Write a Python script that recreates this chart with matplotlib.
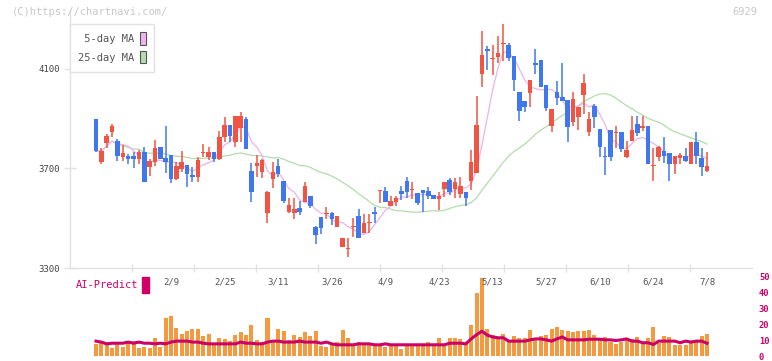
import numpy as np
import pandas as pd
import matplotlib
matplotlib.use("Agg")
import matplotlib.pyplot as plt
from matplotlib.patches import Patch, Rectangle

# daily candles
opens = [3899, 3726, 3802, 3848, 3810, 3747, 3751, 3750, 3738, 3766,
         3707, 3726, 3786, 3742, 3754, 3659, 3698, 3714, 3673, 3667,
         3763, 3747, 3767, 3739, 3828, 3874, 3807, 3864, 3899, 3690,
         3711, 3687, 3522, 3659, 3710, 3649, 3526, 3522, 3542, 3566,
         3589, 3466, 3505, 3518, 3521, 3466, 3385, 3375, 3463, 3509,
         3442, 3479, 3525, 3608, 3609, 3550, 3566, 3609, 3649, 3612,
         3601, 3613, 3609, 3593, 3578, 3619, 3654, 3619, 3597, 3605,
         3650, 3683, 4080, 4180, 4141, 4149, 4199, 4196, 4152, 4007,
         3971, 4005, 4124, 4136, 4034, 3872, 4007, 3987, 3975, 3888,
         3908, 3997, 3848, 3951, 3859, 3751, 3855, 3844, 3847, 3746,
         3812, 3879, 3864, 3871, 3711, 3747, 3770, 3762, 3719, 3743,
         3750, 3719, 3806, 3742, 3691]
highs = [3899, 3781, 3837, 3877, 3817, 3794, 3757, 3767, 3774, 3786,
         3740, 3814, 3787, 3870, 3754, 3726, 3771, 3714, 3706, 3747,
         3798, 3786, 3767, 3850, 3907, 3874, 3912, 3927, 3908, 3723,
         3754, 3740, 3611, 3726, 3740, 3649, 3581, 3581, 3568, 3645,
         3589, 3470, 3505, 3545, 3525, 3509, 3422, 3422, 3501, 3538,
         3519, 3519, 3545, 3611, 3625, 3588, 3588, 3629, 3665, 3645,
         3601, 3613, 3624, 3593, 3604, 3646, 3663, 3663, 3664, 3605,
         3774, 3991, 4253, 4194, 4196, 4232, 4281, 4203, 4152, 4007,
         3971, 4056, 4180, 4136, 4034, 3939, 4053, 4125, 3975, 4009,
         3948, 4078, 3926, 3959, 3859, 3788, 3855, 3871, 3847, 3810,
         3911, 3911, 3911, 3871, 3782, 3790, 3826, 3762, 3750, 3763,
         3784, 3806, 3847, 3784, 3766]
lows = [3766, 3719, 3783, 3828, 3730, 3730, 3719, 3703, 3719, 3647,
        3669, 3711, 3739, 3683, 3643, 3652, 3686, 3627, 3647, 3647,
        3747, 3736, 3728, 3736, 3807, 3807, 3787, 3807, 3779, 3566,
        3667, 3663, 3482, 3623, 3664, 3560, 3522, 3498, 3514, 3566,
        3542, 3397, 3438, 3498, 3474, 3466, 3385, 3345, 3424, 3422,
        3442, 3442, 3481, 3562, 3566, 3550, 3550, 3572, 3580, 3578,
        3552, 3525, 3577, 3578, 3533, 3587, 3592, 3580, 3580, 3550,
        3613, 3680, 4029, 4096, 4076, 4123, 4133, 4133, 4011, 3891,
        3928, 3948, 4080, 4029, 3932, 3848, 3955, 3973, 3808, 3871,
        3855, 3918, 3830, 3861, 3747, 3672, 3731, 3784, 3767, 3743,
        3812, 3832, 3852, 3719, 3651, 3730, 3721, 3651, 3679, 3719,
        3727, 3719, 3719, 3671, 3687]
closes = [3770, 3770, 3830, 3870, 3750, 3762, 3738, 3738, 3767, 3647,
          3730, 3783, 3739, 3727, 3659, 3710, 3726, 3679, 3667, 3734,
          3767, 3767, 3739, 3826, 3874, 3832, 3912, 3912, 3779, 3606,
          3723, 3734, 3605, 3686, 3679, 3570, 3553, 3537, 3526, 3629,
          3550, 3434, 3462, 3521, 3498, 3509, 3422, 3380, 3468, 3422,
          3482, 3482, 3519, 3611, 3566, 3570, 3581, 3598, 3606, 3615,
          3562, 3600, 3590, 3578, 3589, 3646, 3605, 3646, 3629, 3583,
          3726, 3875, 4156, 4174, 4144, 4165, 4202, 4143, 4056, 3932,
          3948, 4056, 4115, 4029, 3944, 3939, 3985, 3973, 3868, 3979,
          3948, 4042, 3899, 3908, 3788, 3746, 3747, 3847, 3780, 3774,
          3855, 3844, 3871, 3719, 3714, 3786, 3750, 3719, 3750, 3754,
          3730, 3806, 3750, 3707, 3710]

volume = [7.8, 8.2, 7.4, 5.3, 8.2, 5.9, 8.2, 9.3, 5.3, 5.9,
          5.3, 11.6, 5.9, 24.1, 25.3, 17.8, 14.1, 15.9, 17.0, 17.0,
          12.8, 14.1, 8.2, 11.6, 10.7, 9.5, 13.4, 15.3, 13.4, 19.7,
          10.3, 8.9, 24.1, 8.9, 17.2, 15.9, 10.3, 13.4, 12.2, 15.3,
          12.8, 15.9, 6.6, 5.9, 7.8, 9.1, 16.6, 11.6, 6.8, 8.9,
          7.8, 7.8, 6.6, 6.8, 5.9, 6.6, 6.6, 4.7, 6.6, 6.6,
          6.6, 6.6, 9.1, 6.6, 11.6, 6.6, 11.6, 11.6, 10.9, 7.8,
          19.3, 39.7, 49.1, 17.2, 13.4, 12.2, 14.1, 9.5, 12.8, 11.6,
          11.6, 16.6, 10.3, 12.8, 13.4, 17.2, 18.4, 16.6, 15.9, 15.3,
          15.9, 15.9, 16.6, 13.4, 11.6, 12.2, 9.1, 7.8, 9.1, 10.3,
          10.9, 12.2, 7.8, 11.6, 18.4, 8.2, 12.8, 12.2, 7.2, 7.2,
          7.2, 9.1, 9.1, 12.8, 14.1]

ai_predict = [9.5, 8.9, 7.8, 8.2, 8.2, 8.2, 8.9, 8.2, 8.9, 8.2,
              8.2, 7.8, 8.2, 7.8, 8.9, 9.5, 9.5, 9.5, 8.9, 8.9,
              8.2, 7.8, 7.8, 7.8, 7.8, 7.8, 7.8, 8.9, 8.2, 8.2,
              7.8, 7.8, 8.9, 9.5, 9.5, 8.9, 8.9, 8.9, 9.5, 8.9,
              8.9, 8.9, 8.2, 8.9, 7.8, 7.2, 7.2, 7.2, 7.2, 7.8,
              7.8, 7.8, 7.2, 7.2, 7.8, 7.2, 7.2, 7.2, 7.2, 7.2,
              7.2, 7.2, 7.2, 7.2, 7.2, 7.2, 8.2, 8.2, 8.2, 7.8,
              10.9, 13.5, 15.7, 13.3, 12.1, 11.6, 11.6, 9.5, 9.5, 9.5,
              9.5, 10.3, 10.9, 10.9, 10.3, 9.5, 10.9, 12.1, 10.3, 10.3,
              10.3, 10.3, 10.7, 10.7, 10.7, 10.3, 10.3, 9.9, 10.3, 10.9,
              9.5, 9.5, 8.5, 8.5, 7.4, 9.5, 9.5, 9.5, 9.5, 8.5,
              9.5, 8.9, 9.5, 9.5, 8.2]

date_labels = ['2/9', '2/25', '3/11', '3/26', '4/9', '4/23',
               '5/13', '5/27', '6/10', '6/24', '7/8']
date_index = [14, 24, 34, 44, 54, 64, 74, 84, 94, 104, 114]
price_ticks = [3300, 3700, 4100]
ai_ticks = [0, 10, 20, 30, 40, 50]

UP = '#f05442'
DOWN = '#3f78ee'
GRID = '#e2e2e2'
MAGENTA = '#cc0066'
MONO = 'DejaVu Sans Mono'

W, H = 772, 361
def box(x0, y0, x1, y1):
    return [x0 / W, 1 - y1 / H, (x1 - x0) / W, (y1 - y0) / H]

x = np.arange(len(closes))
o = np.array(opens, float)
c = np.array(closes, float)
hi = np.array(highs, float)
lo = np.array(lows, float)
ma5 = pd.Series(c).rolling(5, min_periods=1).mean()
ma25 = pd.Series(c).rolling(25, min_periods=1).mean()

xmin, xmax = -4.85, 122.4

fig = plt.figure(figsize=(W / 100, H / 100), dpi=100)

# volume / AI panel (drawn first, transparent, so date labels stay visible)
ax2 = fig.add_axes(box(70, 276.5, 752, 356.3))
ax2.patch.set_visible(False)
ax2.set_xlim(xmin, xmax)
ax2.set_ylim(0, 50)
for s in ax2.spines.values():
    s.set_visible(False)
ax2.bar(x, volume, width=0.75, color='#f39a40', zorder=1)
ax2.plot(x, ai_predict, color=MAGENTA, lw=2.2, zorder=2)
ax2.set_xticks([])
ax2.yaxis.tick_right()
ax2.set_yticks(ai_ticks, [str(v) for v in ai_ticks])
ax2.tick_params(axis='y', length=0, pad=5, labelsize=6.3, labelcolor=MAGENTA)
for t in ax2.get_yticklabels():
    t.set_family(MONO)
    t.set_fontweight('bold')

# price panel
ax = fig.add_axes(box(70, 10, 752, 268))
ax.patch.set_visible(False)
ax.set_xlim(xmin, xmax)
ax.set_ylim(3300, 4337)
for s in ('top', 'right'):
    ax.spines[s].set_visible(False)
for s in ('left', 'bottom'):
    ax.spines[s].set_color(GRID)
    ax.spines[s].set_linewidth(1)

ax.plot(x, ma25, color='#b3dcab', lw=0.9, zorder=1)
ax.plot(x, ma5, color='#ebb3eb', lw=0.9, zorder=1)

cols = np.where(c >= o, UP, DOWN)
ax.vlines(x, lo, hi, colors=cols, lw=1.1, zorder=2)
body = np.maximum(np.abs(c - o), 4)
ax.bar(x, body, bottom=np.minimum(o, c), width=0.85, color=cols, zorder=3)

ax.set_yticks(price_ticks, [str(v) for v in price_ticks])
ax.tick_params(axis='y', direction='inout', length=8, width=1, color=GRID,
               labelsize=6.5, labelcolor='#444444', pad=3)
ax.set_xticks(np.linspace(xmin, xmax, 12)[1:-1], [])
ax.tick_params(axis='x', which='major', direction='inout', length=6,
               width=1, color=GRID)
ax.set_xticks(date_index, date_labels, minor=True)
ax.tick_params(axis='x', which='minor', length=0, pad=7, labelsize=6.5,
               labelcolor='#555555')
for t in ax.get_xticklabels(minor=True) + ax.get_yticklabels():
    t.set_family(MONO)

handles = [Patch(facecolor='#efb5ef', edgecolor='#555555', lw=0.8),
           Patch(facecolor='#b5deb0', edgecolor='#555555', lw=0.8)]
leg = ax.legend(handles, [' 5-day MA', '25-day MA'], loc='upper left',
                bbox_to_anchor=(70 / W, 1 - 24 / H),
                bbox_transform=fig.transFigure, markerfirst=False,
                fancybox=False, edgecolor=GRID, framealpha=1,
                handlelength=0.6, handleheight=1.5, handletextpad=0.5,
                borderpad=0.8, labelspacing=0.55, borderaxespad=0,
                prop={'family': MONO, 'size': 7.5}, labelcolor='#555555')
leg.get_frame().set_linewidth(1)
leg.set_zorder(5)

fig.text(76 / W, 1 - 285 / H, 'AI-Predict', color=MAGENTA, fontsize=7.5,
         family=MONO, va='center')
fig.patches.append(Rectangle((142 / W, 1 - 293 / H), 7 / W, 16 / H,
                             transform=fig.transFigure, color=MAGENTA))

fig.text(12 / W, 1 - 12 / H, '(C)https://chartnavi.com/', color='#c8c8c8',
         fontsize=7.5, family=MONO, va='center')
fig.text(757 / W, 1 - 12 / H, '6929', color='#c8c8c8', fontsize=7.5,
         family=MONO, va='center', ha='right')

fig.savefig('out.png', dpi=100)
